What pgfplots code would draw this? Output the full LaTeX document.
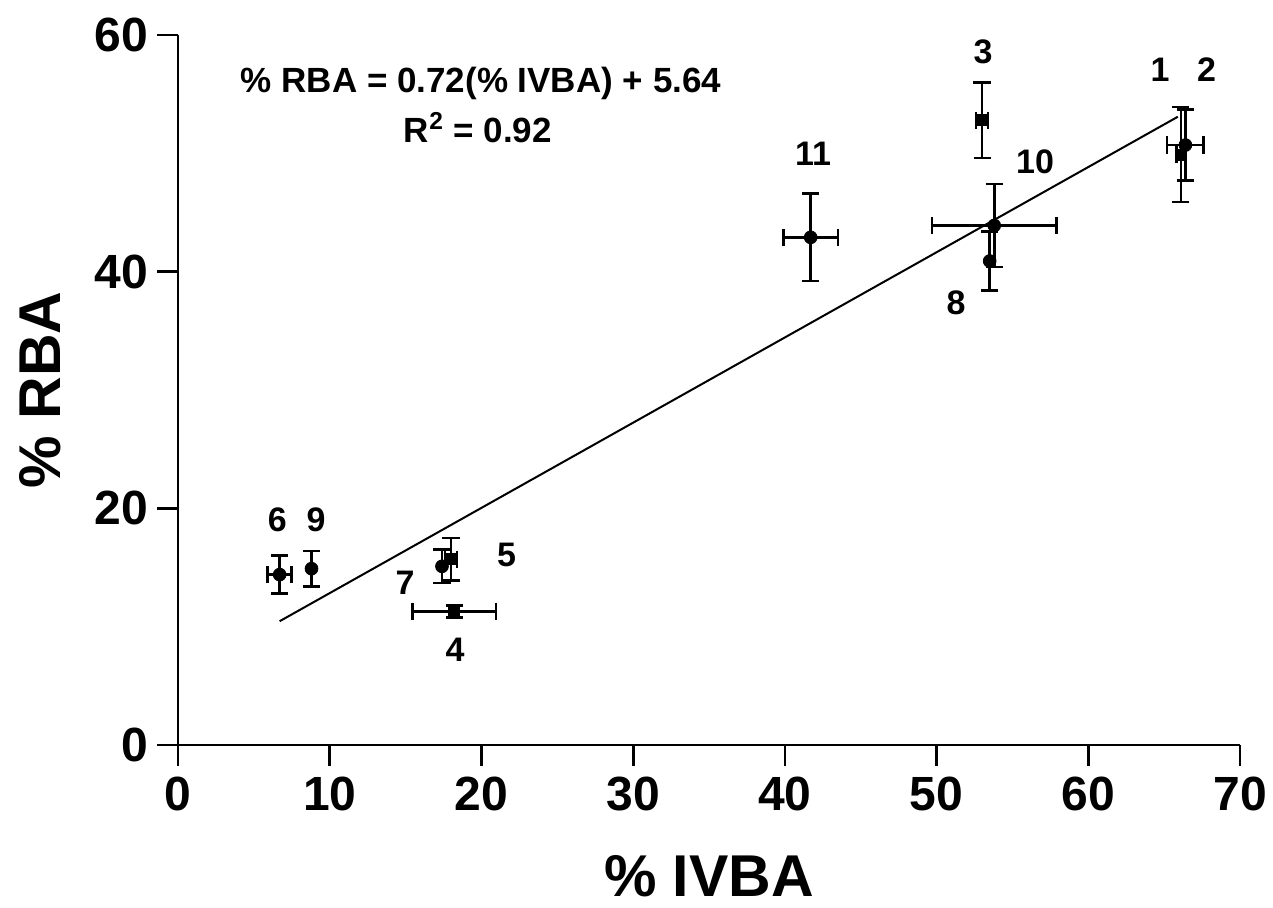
\documentclass[border=0pt]{standalone}
\usepackage{pgfplots}
\pgfplotsset{compat=1.18}
\usepackage{pgfplotstable}
\usepackage{fontspec}
\setmainfont{Liberation Sans}
\usetikzlibrary{calc}

\pgfplotstableread{
x y ex ey
66.1 49.9 0.3 4.0
53.0 52.8 0.4 3.2
18.2 11.3 2.75 0.5
18.0 15.7 0.4 1.8
}\squares
\pgfplotstableread{
x y ex ey
66.4 50.7 1.2 3.0
6.7 14.4 0.8 1.6
53.8 43.9 4.1 3.5
41.7 42.9 1.8 3.7
}\circlesxy
\pgfplotstableread{
x y ey
17.4 15.1 1.4
53.5 40.9 2.5
8.8 14.9 1.5
}\circlesy
\pgfplotstableread{
x y
6.7 10.46
65.9 53.09
}\fitline

\begin{document}
\begin{tikzpicture}
\begin{axis}[
  scale only axis,
  width=531pt, height=355pt,
  xmin=0, xmax=70, ymin=0, ymax=60,
  axis x line=bottom, axis y line=left,
  axis line style={-, line width=1.35pt},
  xtick={0,10,...,70}, ytick={0,20,40,60},
  minor tick num=0,
  tick align=outside,
  major tick length=10.5pt,
  tick style={line width=1.35pt, black},
  /pgf/number format/assume math mode=true,
  ticklabel style={font=\fontsize{24}{28}\selectfont\bfseries},
  xticklabel style={yshift=-2pt},
  yticklabel style={xshift=-1pt},
  xlabel={\% IVBA}, ylabel={\% RBA},
  xlabel style={font=\fontsize{29.5}{34}\selectfont\bfseries, at={(axis description cs:0.5,-0.2135)}, anchor=base},
  ylabel style={font=\fontsize{29.5}{34}\selectfont\bfseries, at={(axis description cs:-0.111,0.5)}, anchor=base, rotate=0},
  clip=false,
  error bars/error bar style={line width=1.3pt, black},
  error bars/error mark options={rotate=90, line width=1.3pt, black, mark size=4.3pt},
]
\coordinate (bl) at (rel axis cs:0,0);
\coordinate (tr) at (rel axis cs:1,1);
\addplot[black, line width=1pt, no marks] table {\fitline};
\addplot[only marks, mark=square*, mark size=2.8pt, black,
  error bars/.cd, x dir=both, y dir=both, x explicit, y explicit]
  table[x=x, y=y, x error=ex, y error=ey] {\squares};
\addplot[only marks, mark=*, mark size=3.2pt, black,
  error bars/.cd, x dir=both, y dir=both, x explicit, y explicit]
  table[x=x, y=y, x error=ex, y error=ey] {\circlesxy};
\addplot[only marks, mark=*, mark size=3.2pt, black,
  error bars/.cd, y dir=both, y explicit]
  table[x=x, y=y, y error=ey] {\circlesy};

\begin{scope}[every node/.style={font=\fontsize{17.5}{20}\selectfont\bfseries, anchor=base, inner sep=0pt}]
\node at (axis cs:19.97,55.16) {\% RBA = 0.72(\% IVBA) + 5.64};
\node at (axis cs:19.77,50.93) {R\textsuperscript{2} = 0.92};
\end{scope}
\begin{scope}[every node/.style={font=\fontsize{17}{20}\selectfont\bfseries, anchor=base, inner sep=0pt}]
\node at (axis cs:64.73,56.05) {1};
\node at (axis cs:67.8,56.05) {2};
\node at (axis cs:53.06,57.6) {3};
\node at (axis cs:18.26,7.04) {4};
\node at (axis cs:21.66,15.07) {5};
\node at (axis cs:6.55,18.03) {6};
\node at (axis cs:14.96,12.68) {7};
\node at (axis cs:51.28,36.34) {8};
\node at (axis cs:9.10,18.03) {9};
\node at (axis cs:56.49,48.31) {10};
\node at (axis cs:41.86,49.0) {11};
\end{scope}
\end{axis}
\pgfresetboundingbox
\path ($(bl)+(-89pt,-81pt)$) rectangle ($(tr)+(16.5pt,17.5pt)$);
\end{tikzpicture}
\end{document}
